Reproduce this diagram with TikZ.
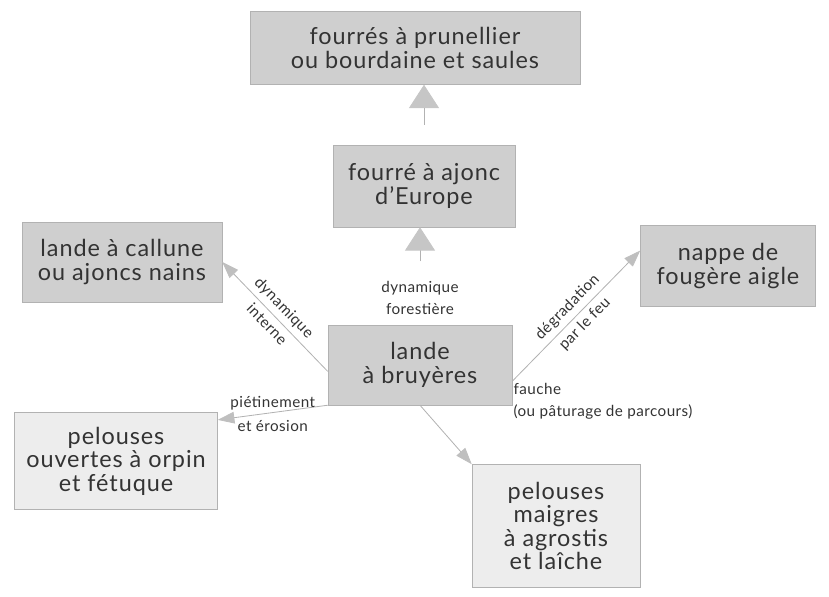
\documentclass[tikz,border=0pt]{standalone}
\usepackage{fontspec}
\setmainfont{Lato}
\usetikzlibrary{positioning,arrows.meta}

\begin{document}
\begin{tikzpicture}[x=0.03cm,y=0.03cm,
    dark/.style={rectangle,draw=gray!60,fill=gray!38,text=black!80,align=center,inner sep=0pt,
      font=\addfontfeature{LetterSpace=4}\fontsize{20}{20}\selectfont},
    light/.style={dark,fill=gray!14},
    flow/.style={draw=gray!60,line width=0.7pt,-{Triangle[length=5mm,width=3.5mm,color=gray!50]}},
    rise/.style={flow,-{Triangle[length=7mm,width=9mm,color=gray!45]}},
    lbl/.style={text=black!80,inner sep=2pt,
      font=\addfontfeature{LetterSpace=3}\fontsize{13}{18.8}\selectfont}]
    \useasboundingbox (0,0) rectangle (829,597);

    \node[dark,minimum width=9.9cm,minimum height=2.19cm] (prunellier) at (415,549) {fourrés à prunellier\\ou bourdaine et saules};
    \node[dark,minimum width=5.46cm,minimum height=2.46cm] (ajonc) at (424,411) {fourré à ajonc\\d'Europe};
    \node[dark,minimum width=6cm,minimum height=2.4cm] (callune) at (122,335) {lande à callune\\ou ajoncs nains};
    \node[dark,minimum width=5.25cm,minimum height=2.43cm] (fougere) at (728,331) {nappe de\\fougère aigle};
    \node[dark,minimum width=5.52cm,minimum height=2.4cm] (bruyeres) at (420,232) {lande\\à bruyères};
    \node[light,minimum width=6.09cm,minimum height=2.91cm] (orpin) at (116,136) {pelouses\\ouvertes à orpin\\et fétuque};
    \node[light,minimum width=5.04cm,minimum height=3.69cm] (agrostis) at (556,71) {pelouses\\maigres\\à agrostis\\et laîche};

    \draw[rise,shorten <=0.6cm] (ajonc.north) -- (ajonc.north |- prunellier.south);
    \draw[rise,shorten <=1.9cm] (bruyeres.north) -- (bruyeres.north |- ajonc.south)
        node[lbl,pos=0.27,align=center] {dynamique\\forestière};
    \draw[flow] (bruyeres.184) -- (callune.east)
        node[lbl,midway,sloped,above=2pt] {dynamique}
        node[lbl,midway,sloped,below=2pt] {interne};
    \draw[flow] (bruyeres.-10) -- (fougere.170)
        node[lbl,midway,sloped,above=2pt] {dégradation}
        node[lbl,midway,sloped,below=2pt] {par le feu};
    \draw[flow] (bruyeres.south west) -- (orpin.22)
        node[lbl,midway,above] {piétinement}
        node[lbl,midway,below=4pt] {et érosion};
    \draw[flow] (bruyeres.south) -- (agrostis.north west);
    \node[lbl,align=left,anchor=west] (fauche) at (511,196) {fauche\\(ou pâturage de parcours)};
\end{tikzpicture}
\end{document}
